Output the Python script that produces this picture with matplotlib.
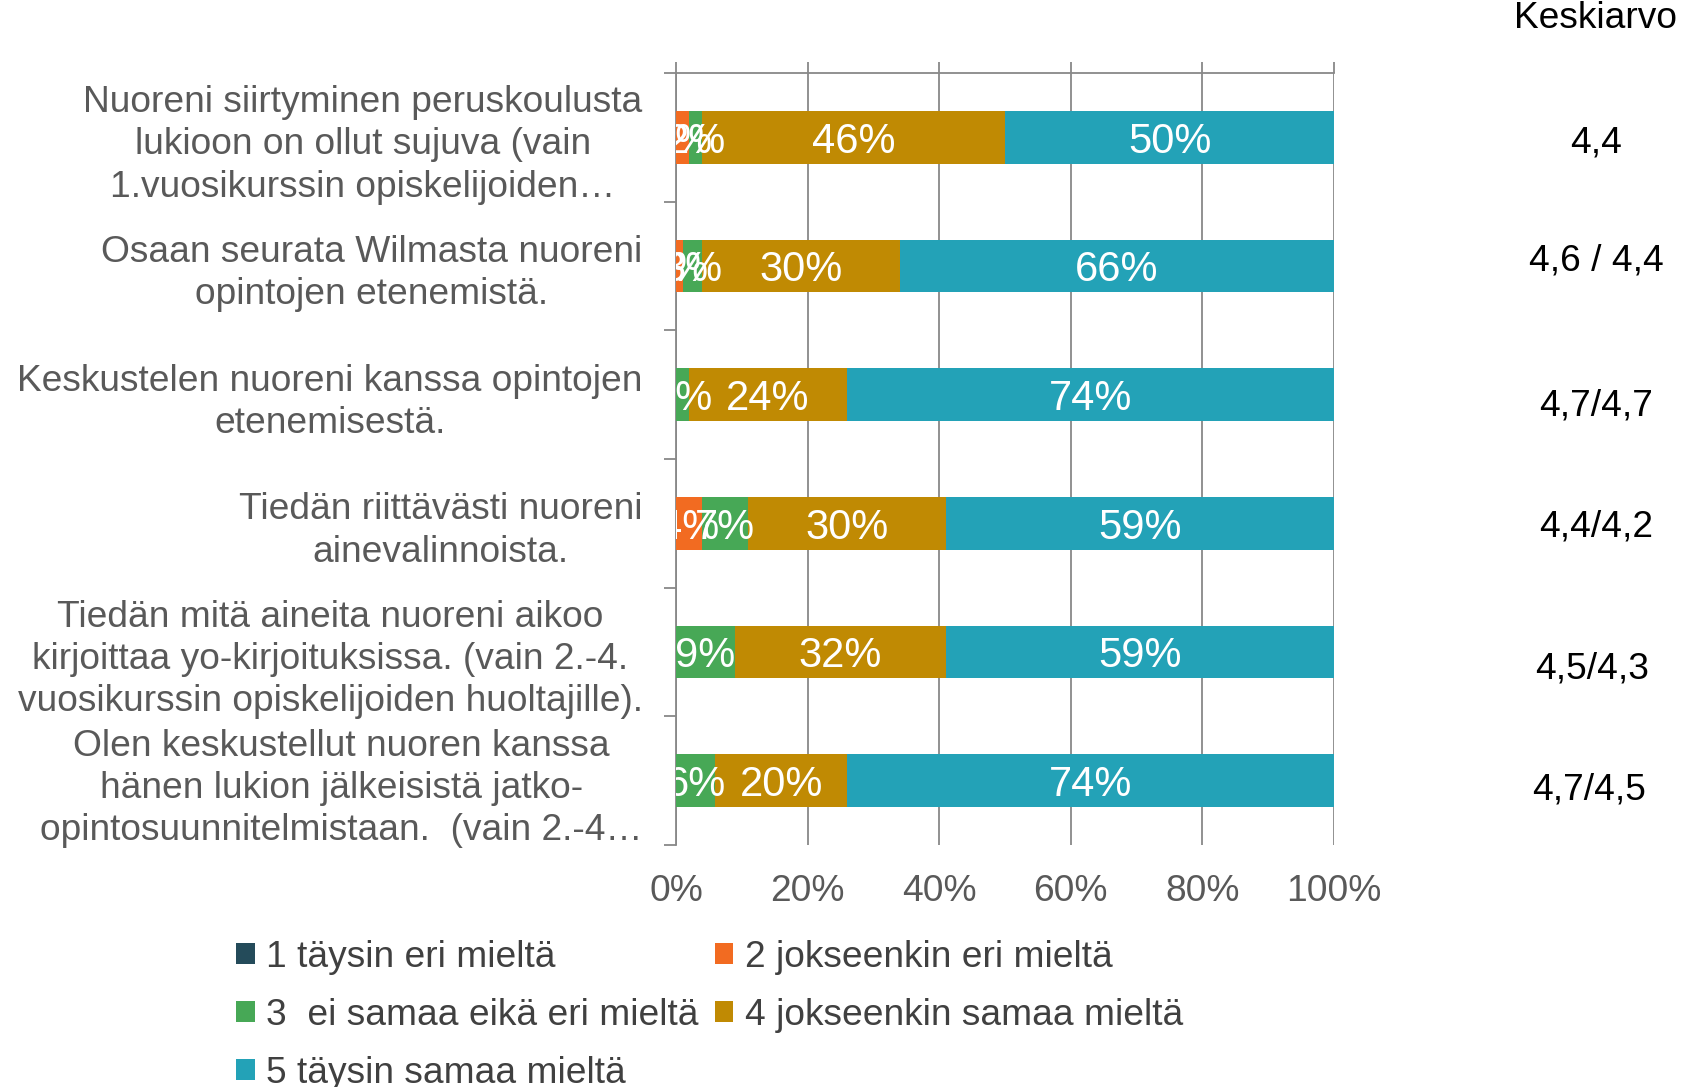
import matplotlib.pyplot as plt
import numpy as np
from matplotlib.patches import Patch

plt.rcParams['font.family'] = ['Liberation Sans', 'DejaVu Sans']

# statements (y-axis categories), top to bottom
questions = [
    "Nuoreni siirtyminen peruskoulusta\nlukioon on ollut sujuva (vain\n1.vuosikurssin opiskelijoiden…",
    "Osaan seurata Wilmasta nuoreni\nopintojen etenemistä.",
    "Keskustelen nuoreni kanssa opintojen\netenemisestä.",
    "Tiedän riittävästi nuoreni\nainevalinnoista.",
    "Tiedän mitä aineita nuoreni aikoo\nkirjoittaa yo-kirjoituksissa. (vain 2.-4.\nvuosikurssin opiskelijoiden huoltajille).",
    "Olen keskustellut nuoren kanssa\nhänen lukion jälkeisistä jatko-\nopintosuunnitelmistaan.  (vain 2.-4…",
]

# answer shares in percent
s1_taysin_eri = [0, 0, 0, 0, 0, 0]
s2_jokseenkin_eri = [2, 1, 0, 4, 0, 0]
s3_ei_samaa_eika_eri = [2, 3, 2, 7, 9, 6]
s4_jokseenkin_samaa = [46, 30, 24, 30, 32, 20]
s5_taysin_samaa = [50, 66, 74, 59, 59, 74]

series_names = ["1 täysin eri mieltä", "2 jokseenkin eri mieltä",
                "3  ei samaa eikä eri mieltä", "4 jokseenkin samaa mieltä",
                "5 täysin samaa mieltä"]
colors = ["#244B5A", "#F26B21", "#47A856", "#C08A03", "#23A2B7"]

# averages shown in the right column
keskiarvo = ["4,4", "4,6 / 4,4", "4,7/4,7", "4,4/4,2", "4,5/4,3", "4,7/4,5"]

W, H = 1683, 1087
fig = plt.figure(figsize=(W / 100, H / 100), dpi=100)
ax = fig.add_axes([676 / W, 1 - 845 / H, (1334 - 676) / W, (845 - 73) / H])

grid_c = "#888888"
fs = 26.7

data = [s1_taysin_eri, s2_jokseenkin_eri, s3_ei_samaa_eika_eri,
        s4_jokseenkin_samaa, s5_taysin_samaa]
y = np.arange(len(questions))
left = np.zeros(len(questions))
for vals, col in zip(data, colors):
    vals = np.array(vals, dtype=float) / 100
    ax.barh(y, vals, left=left, height=0.41, color=col, zorder=3)
    for yi, (l, v) in enumerate(zip(left, vals)):
        if v > 0:
            ax.text(l + v / 2, yi, f"{v * 100:.0f}%", ha='center',
                    va='center_baseline', color='white', fontsize=30,
                    zorder=4, clip_on=True)
    left += vals

ax.set_xlim(0, 1)
ax.set_ylim(len(questions) - 0.5, -0.5)

ax.set_xticks(np.linspace(0, 1, 6))
ax.set_xticklabels([f"{int(t)}%" for t in np.linspace(0, 100, 6)])
ax.xaxis.grid(True, color=grid_c, linewidth=1.3, zorder=0)
ax.tick_params(axis='x', bottom=False, top=True, labelbottom=True, labeltop=False,
               length=8, width=1.3, color=grid_c, labelcolor="#595959",
               labelsize=fs, pad=13)

ax.set_yticks(y)
ax.set_yticklabels(questions, multialignment='center', linespacing=1.27)
ax.set_yticks(np.arange(-0.5, len(questions)), minor=True)
ax.tick_params(axis='y', which='major', length=0, labelsize=fs,
               labelcolor="#595959", pad=24)
ax.tick_params(axis='y', which='minor', length=9, width=1.3, color=grid_c)

for side in ['right', 'bottom']:
    ax.spines[side].set_visible(False)
for side in ['left', 'top']:
    ax.spines[side].set_color(grid_c)
    ax.spines[side].set_linewidth(1.3)

# right-hand column with averages
fig.text(1596 / W, 1 - 19 / H, "Keskiarvo", ha='center', va='center',
         fontsize=fs, color='black')
kx = [1596, 1596, 1596, 1596, 1592, 1589]
ky = [143, 261, 406, 527, 669, 790]
for txt, xx, yy in zip(keskiarvo, kx, ky):
    fig.text(xx / W, 1 - yy / H, txt, ha='center', va='center',
             fontsize=fs, color='black')

# legend, row-major order as in the original
handles = [Patch(facecolor=c, edgecolor='none') for c in colors]
order = [0, 2, 4, 1, 3]
fig.legend([handles[i] for i in order], [series_names[i] for i in order],
           ncol=2, loc='upper left', bbox_to_anchor=(236 / W, 1 - 940 / H),
           frameon=False, fontsize=fs, handlelength=0.5, handleheight=0.5,
           handletextpad=0.3, columnspacing=0.45, labelspacing=0.62,
           borderpad=0, borderaxespad=0, labelcolor="#404040")

fig.savefig("out.png", dpi=100)
